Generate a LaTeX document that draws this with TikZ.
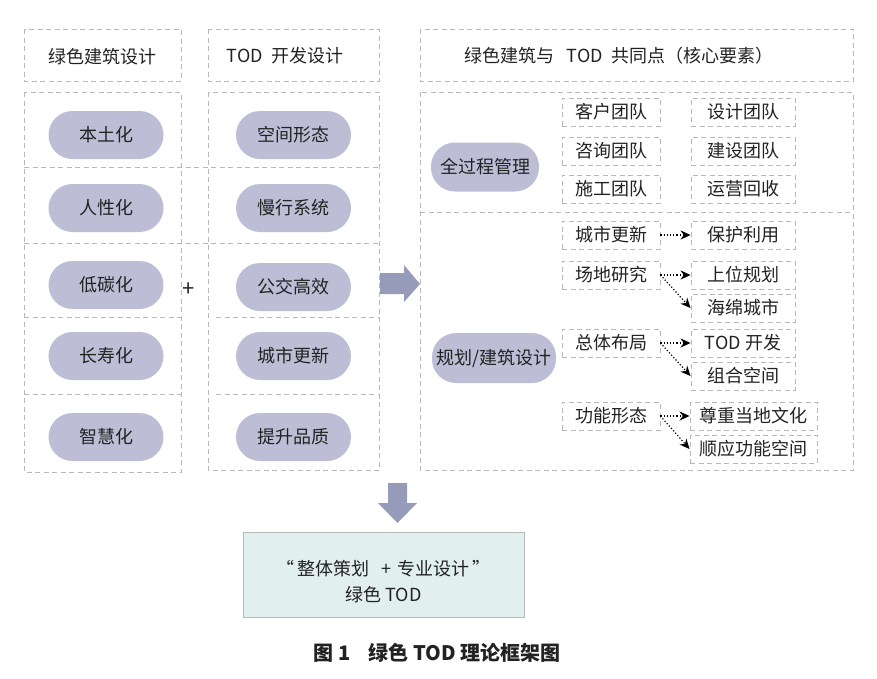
\documentclass[tikz,border=0pt]{standalone}
\usepackage{fontspec}
\setmainfont{Noto Sans CJK SC}
\usetikzlibrary{arrows.meta}
\definecolor{pillc}{HTML}{BDBED6}
\definecolor{arrowc}{HTML}{979BBA}
\definecolor{dashc}{HTML}{B8B8B8}
\definecolor{boxfill}{HTML}{E1EFEF}
\definecolor{txt}{HTML}{222222}
\begin{document}
\begin{tikzpicture}[x=1pt,y=-1pt,
  every node/.style={text=txt},
  frame/.style={draw=dashc, line width=0.9pt, dash pattern=on 5pt off 3.5pt},
  pill/.style={fill=pillc, rounded corners=24pt, minimum width=115pt, minimum height=48pt, inner sep=0pt, font=\fontsize{18}{20}\selectfont},
  sbox/.style={frame, minimum height=28pt, inner sep=0pt, font=\fontsize{18}{20}\selectfont},
  head/.style={font=\fontsize{18}{20}\selectfont},
  link/.style={dotted, line width=1.2pt, -{Stealth[length=10pt,width=9pt]}},
  bigarrow/.style={fill=arrowc}]
\useasboundingbox (0,0) rectangle (877,678);
% left column frames
\draw[frame] (24,29) rectangle (181,81);
\draw[frame] (208,29) rectangle (379,81);
\draw[frame] (24,92) rectangle (181,472);
\draw[frame] (208,92) rectangle (379,470);
\draw[frame] (24,167) -- (379,167);
\draw[frame] (24,243) -- (379,243);
\draw[frame] (24,317) -- (183,317);
\draw[frame] (216,317) -- (379,317);
\draw[frame] (24,394) -- (183,394);
\draw[frame] (216,394) -- (379,394);
\node[head] (h1) at (102,57) {绿色建筑设计};
\node[head] (h2) at (285,56) {TOD\ \ 开发设计};
% pills left
\node[pill] (a1) at (106,135) {本土化};
\node[pill] (a2) at (106,208) {人性化};
\node[pill] (a3) at (106,285) {低碳化};
\node[pill] (a4) at (106,356) {长寿化};
\node[pill] (a5) at (106,437) {智慧化};
\node[pill] (b1) at (293.5,135) {空间形态};
\node[pill] (b2) at (293.5,208) {慢行系统};
\node[pill] (b3) at (293.5,287) {公交高效};
\node[pill] (b4) at (293.5,356) {城市更新};
\node[pill] (b5) at (293.5,437) {提升品质};
\node[font=\fontsize{22}{24}\selectfont] (plus) at (189,290) {+};
% right arrow
\fill[bigarrow] (380,273) -- (404,273) -- (404,265) -- (420,284) -- (404,302) -- (404,294) -- (380,294) -- cycle;
% right frames
\draw[frame] (420,29) rectangle (853,81);
\draw[frame] (420,92) rectangle (853,470);
\draw[frame] (420,212) -- (853,212);
\node[head] (h3) at (619,56) {绿色建筑与\ \ \ TOD\ \ 共同点（核心要素）};
\node[pill, minimum width=108pt, minimum height=49pt] (m) at (485,167) {全过程管理};
\node[sbox, minimum width=98pt] (c1) at (611,112) {客户团队};
\node[sbox, minimum width=98pt] (c2) at (611,151) {咨询团队};
\node[sbox, minimum width=98pt] (c3) at (611,189) {施工团队};
\node[sbox, minimum width=104pt] (d1) at (743,112) {设计团队};
\node[sbox, minimum width=104pt] (d2) at (743,151) {建设团队};
\node[sbox, minimum width=104pt] (d3) at (743,189) {运营回收};
% lower right
\node[pill, minimum width=124pt, minimum height=50pt] (p) at (494,358) {规划/建筑设计};
\node[sbox, minimum width=98pt] (e1) at (611,235) {城市更新};
\node[sbox, minimum width=98pt] (e2) at (611,275) {场地研究};
\node[sbox, minimum width=98pt] (e3) at (611,343) {总体布局};
\node[sbox, minimum width=98pt] (e4) at (611,416) {功能形态};
\node[sbox, minimum width=104pt] (f1) at (743,235) {保护利用};
\node[sbox, minimum width=104pt] (f2) at (743,275) {上位规划};
\node[sbox, minimum width=104pt] (f3) at (743,308) {海绵城市};
\node[sbox, minimum width=104pt] (f4) at (743,343) {TOD 开发};
\node[sbox, minimum width=104pt] (f5) at (743,376) {组合空间};
\node[sbox, minimum width=127pt] (f6) at (753.5,416) {尊重当地文化};
\node[sbox, minimum width=127pt] (f7) at (753.5,449) {顺应功能空间};
\draw[link] (e1.east) -- (f1.west);
\draw[link] (e2.east) -- (f2.west);
\draw[link] (e2.east) -- (f3.west);
\draw[link] (e3.east) -- (f4.west);
\draw[link] (e3.east) -- (f5.west);
\draw[link] (e4.east) -- (f6.west);
\draw[link] (e4.east) -- (f7.west);
% down arrow
\fill[bigarrow] (388,483) -- (407,483) -- (407,503) -- (417,503) -- (397.5,523) -- (378,503) -- (388,503) -- cycle;
% result box
\node[draw=gray!55, line width=0.7pt, fill=boxfill, minimum width=281pt, minimum height=85pt] (r) at (383.5,574.5) {};
\node[align=center, font=\fontsize{18}{26}\selectfont] (rt) at (383.5,582) {“\,整体策划\hspace{12pt}+\hspace{6pt}专业设计\,”\\绿色 TOD};
\node[font=\fontsize{20}{22}\selectfont\bfseries] (cap) at (437,653) {图 1\ \ \ \ 绿色 TOD 理论框架图};
\end{tikzpicture}
\end{document}
